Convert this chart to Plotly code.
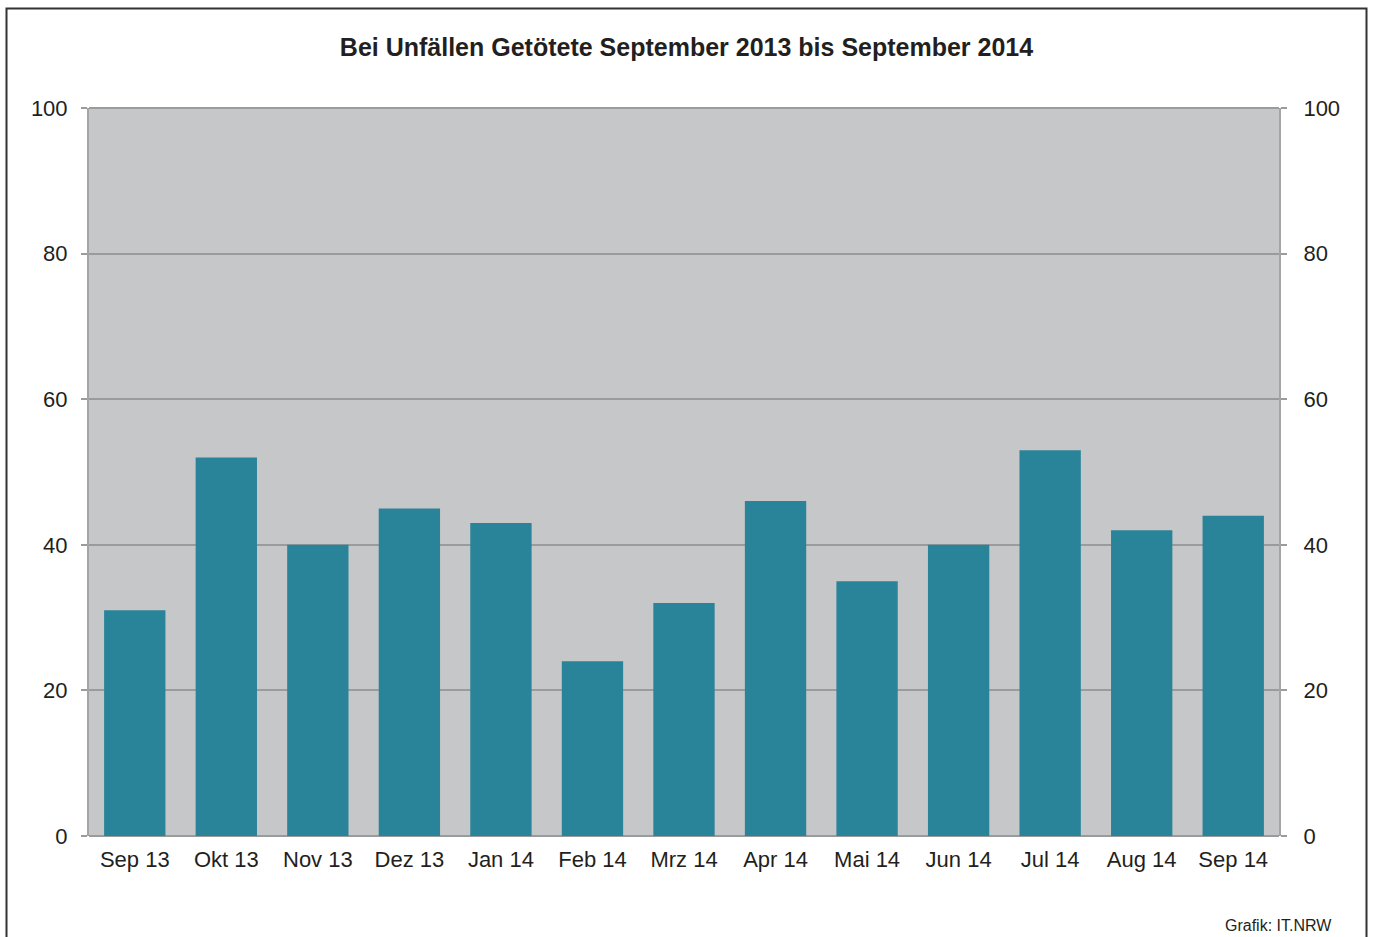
import plotly.graph_objects as go

months = ["Sep 13", "Okt 13", "Nov 13", "Dez 13", "Jan 14", "Feb 14", "Mrz 14",
          "Apr 14", "Mai 14", "Jun 14", "Jul 14", "Aug 14", "Sep 14"]
getoetete = [31, 52, 40, 45, 43, 24, 32, 46, 35, 40, 53, 42, 44]
y_ticks = [0, 20, 40, 60, 80, 100]

W, H = 1373, 937
L, R, T, B = 89, 94, 108, 101
pw, ph = W - L - R, H - T - B

def px_x(p):
    return (p - L) / pw

def px_y(p):
    return (H - B - p) / ph

FONT = "Liberation Sans, Arial, sans-serif"

fig = go.Figure()
fig.add_trace(go.Bar(x=months, y=getoetete, marker=dict(color="#2a8499", line=dict(width=0)),
                     hoverinfo="x+y"))
fig.add_trace(go.Scatter(x=months, y=getoetete, yaxis="y2", mode="none",
                         showlegend=False, hoverinfo="skip"))

axis_font = dict(family=FONT, size=22, color="#231f20")

fig.update_layout(
    width=W, height=H,
    margin=dict(l=L, r=R, t=T, b=B),
    paper_bgcolor="white",
    plot_bgcolor="#c6c7c9",
    showlegend=False,
    bargap=0.33,
    title=dict(text="<b>Bei Unfällen Getötete September 2013 bis September 2014</b>",
               x=0.5, xanchor="center", y=1 - 47 / H, yanchor="middle",
               font=dict(family=FONT, size=25, color="#231f20")),
    xaxis=dict(tickfont=axis_font, showgrid=False, ticks="", showline=False,
               range=[-0.5, len(months) - 0.5], ticklabelstandoff=8),
    yaxis=dict(range=[0, 100], tickvals=y_ticks, tickfont=axis_font,
               showgrid=True, gridcolor="#9a9b9d", gridwidth=2,
               zeroline=True, zerolinecolor="#9a9b9d", zerolinewidth=2,
               showline=True, linecolor="#a3a4a6", linewidth=2,
               ticks="outside", ticklen=6, tickcolor="#9a9b9d", tickwidth=2,
               ticklabelstandoff=9),
    yaxis2=dict(range=[0, 100], tickvals=y_ticks, tickfont=axis_font, overlaying="y",
                side="right", showgrid=False, zeroline=False,
                showline=True, linecolor="#a3a4a6", linewidth=2,
                ticks="outside", ticklen=6, tickcolor="#9a9b9d", tickwidth=2,
                ticklabelstandoff=12),
    shapes=[
        dict(type="line", xref="paper", yref="paper", x0=0, x1=1, y0=1, y1=1,
             line=dict(color="#9a9b9d", width=2), layer="above"),
        dict(type="rect", xref="paper", yref="paper",
             x0=px_x(6.5), x1=px_x(1366.5), y0=px_y(960), y1=px_y(8.5),
             line=dict(color="#333333", width=2), fillcolor="rgba(0,0,0,0)"),
    ],
    annotations=[
        dict(text="Grafik: IT.NRW", xref="paper", yref="paper",
             x=px_x(1334), y=px_y(925), xanchor="right", yanchor="middle",
             showarrow=False,
             font=dict(family=FONT, size=16, color="#231f20")),
    ],
)

fig.write_html("out.html", config={"displayModeBar": False},
               post_script="document.body.style.margin='0';document.body.style.overflow='hidden';")
